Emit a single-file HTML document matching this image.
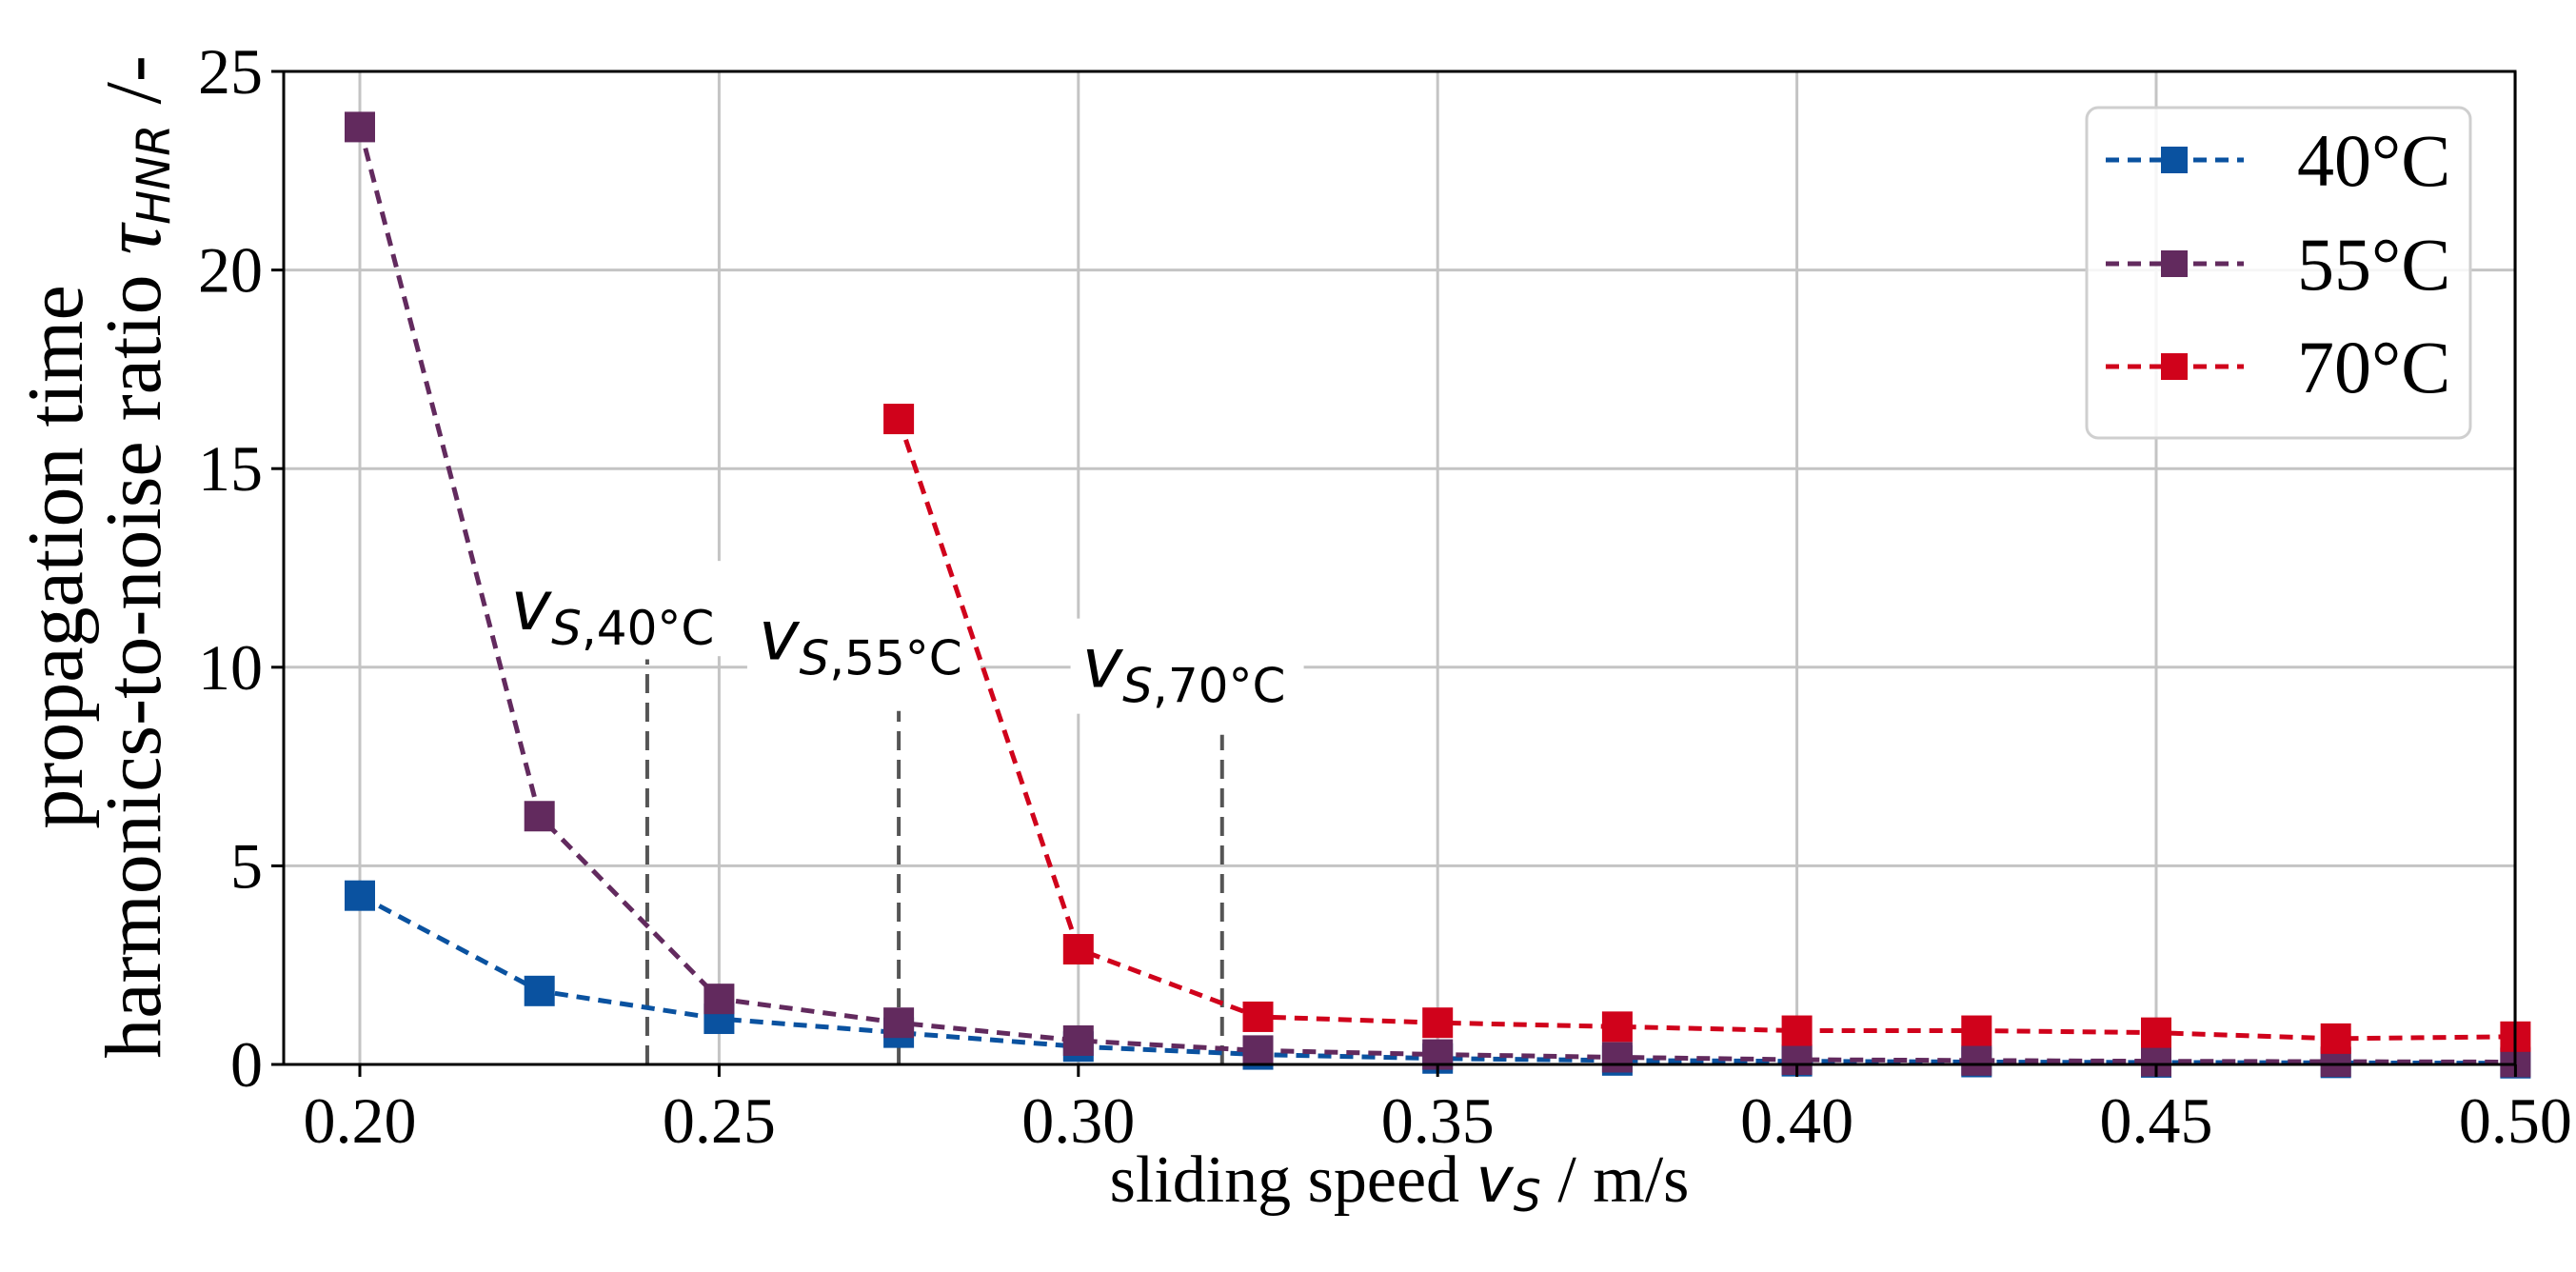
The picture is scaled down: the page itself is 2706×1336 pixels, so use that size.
<!DOCTYPE html>
<html><head><meta charset="utf-8"><style>
html,body{margin:0;padding:0;background:#fff;}
svg{display:block;}
text{font-family:"Liberation Serif",serif;fill:#000;}
.ann{font-family:"DejaVu Sans","Liberation Sans",sans-serif;}
</style></head><body>
<svg id="chart" width="2706" height="1336" viewBox="0 0 2706 1336" xmlns="http://www.w3.org/2000/svg">
<g id="grid"></g>
<g id="annots"></g>
<g id="series"></g>
<g id="axes"></g>
<g id="legend"></g>
<text x="1470" y="1262" font-size="70" text-anchor="middle">sliding speed <tspan class="ann" font-style="italic" font-size="66">v</tspan><tspan class="ann" font-style="italic" font-size="46" dy="10">S</tspan><tspan dy="-10"> / m/s</tspan></text>
<g transform="translate(0,585) rotate(-90)">
<text x="0" y="86" font-size="84" text-anchor="middle">propagation time</text>
<text x="0" y="168" font-size="84" text-anchor="middle">harmonics-to-noise ratio <tspan font-style="italic" font-size="88">τ</tspan><tspan class="ann" font-style="italic" font-size="48" dy="10">HNR</tspan><tspan dy="-10"> /-</tspan></text>
</g>
</svg>
<script>
const xCats = [0.200,0.225,0.250,0.275,0.300,0.325,0.350,0.375,0.400,0.425,0.450,0.475,0.500];
const s40 = [4.25,1.85,1.15,0.8,0.45,0.25,0.15,0.1,0.08,0.06,0.05,0.04,0.03];
const s55 = [23.6,6.25,1.65,1.05,0.6,0.35,0.25,0.18,0.12,0.1,0.08,0.07,0.06];
const x70 = [0.275,0.300,0.325,0.350,0.375,0.400,0.425,0.450,0.475,0.500];
const s70 = [16.25,2.9,1.2,1.05,0.95,0.85,0.85,0.8,0.65,0.7];
const xTicks = [0.20,0.25,0.30,0.35,0.40,0.45,0.50];
const xTickLabels = ["0.20","0.25","0.30","0.35","0.40","0.45","0.50"];
const yTicks = [0,5,10,15,20,25];
const vLineX = [0.24,0.275,0.32];
const vLineTop = [10.2,8.9,8.3];
const vLabels = ["40°C","55°C","70°C"];
const vLabelX = [0.221,0.2555,0.3005];
const vLabelY = [10.95,10.2,9.5];

const NS="http://www.w3.org/2000/svg";
const L=298,R=2642,T=75,B=1118;
const sx=v=>378+(v-0.20)/0.05*377.4;
const sy=v=>B-v/25*(B-T);
function mk(tag,attrs,parent){const e=document.createElementNS(NS,tag);for(const k in attrs)e.setAttribute(k,attrs[k]);parent.appendChild(e);return e;}
const grid=document.getElementById('grid'),axes=document.getElementById('axes'),ser=document.getElementById('series'),ann=document.getElementById('annots'),leg=document.getElementById('legend');

xTicks.forEach((t,i)=>{
  const g=mk('line',{x1:sx(t),x2:sx(t),y1:T,y2:B,stroke:'#c4c4c4','stroke-width':3},grid);
  
  
  const tk=mk('line',{x1:sx(t),x2:sx(t),y1:B,y2:B+13,stroke:'#000','stroke-width':3},axes);
  
  
  const tx=mk('text',{x:sx(t),y:B+82,'font-size':68,'text-anchor':'middle'},axes);
  tx.textContent=xTickLabels[i];
  
  
});
yTicks.forEach(t=>{
  const g=mk('line',{x1:L,x2:R,y1:sy(t),y2:sy(t),stroke:'#c4c4c4','stroke-width':3},grid);
  
  
  const tk=mk('line',{x1:L-13,x2:L,y1:sy(t),y2:sy(t),stroke:'#000','stroke-width':3},axes);
  
  
  const tx=mk('text',{x:L-22,y:sy(t)+23,'font-size':68,'text-anchor':'end'},axes);
  tx.textContent=String(t);
  
  
});
const frame=mk('rect',{x:L,y:T,width:R-L,height:B-T,fill:'none',stroke:'#000','stroke-width':3},axes);



vLineX.forEach((v,i)=>{
  const ln=mk('line',{x1:sx(v),x2:sx(v),y1:B,y2:sy(vLineTop[i]),stroke:'#555','stroke-width':4,'stroke-dasharray':'20 10'},ann);
  
  
  const x0=sx(vLabelX[i]),y0=sy(vLabelY[i]);
  const bg=mk('rect',{x:x0-12,y:y0-72,width:245,height:100,fill:'#fff'},ann);
  
  
  const tx=mk('text',{x:x0,y:y0,'font-size':72,'class':'ann','font-style':'italic'},ann);
  
  
  const a=mk('tspan',{},tx);a.textContent='v';
  const b=mk('tspan',{dy:16,'font-size':50,'font-style':'normal'},tx);b.innerHTML='<tspan font-style="italic">S</tspan>,'+vLabels[i];
});

function series(xs,ys,color,name){
  const g=mk('g',{},ser);
  
  
  const pts=xs.map((x,i)=>sx(x)+','+sy(ys[i])).join(' ');
  const pl=mk('polyline',{points:pts,fill:'none',stroke:color,'stroke-width':5,'stroke-dasharray':'14 9'},g);
  
  
  xs.forEach((x,i)=>{
    const m=mk('rect',{x:sx(x)-16,y:sy(ys[i])-16,width:32,height:32,fill:color},g);
    
    
  });
}
series(xCats,s40,'#0a52a0','series-40c');
series(xCats,s55,'#622a5e','series-55c');
series(x70,s70,'#d0021b','series-70c');

const lb=mk('rect',{x:2192,y:113,width:403,height:347,rx:12,fill:'#fff',stroke:'#cfcfcf','stroke-width':3,'fill-opacity':0.85},leg);


[['#0a52a0','40°C',168],['#622a5e','55°C',277],['#d0021b','70°C',385]].forEach(([c,t,y])=>{
  const g=mk('g',{},leg);
  
  
  mk('line',{x1:2212,x2:2357,y1:y,y2:y,stroke:c,'stroke-width':5,'stroke-dasharray':'14 9'},g);
  mk('rect',{x:2270,y:y-14,width:28,height:28,fill:c},g);
  const tx=mk('text',{x:2413,y:y+27,'font-size':78},g);tx.textContent=t;
});
</script>
</body></html>
